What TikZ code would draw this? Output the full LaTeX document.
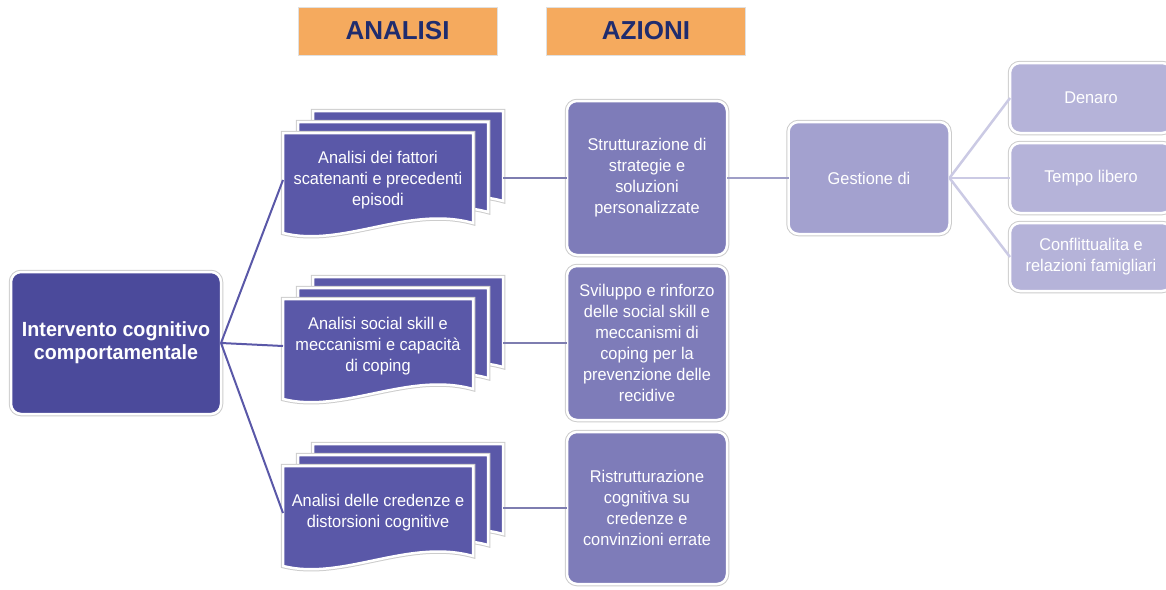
\documentclass[tikz,border=0pt]{standalone}
\usepackage{fontspec}
\usepackage{tikz}
\usetikzlibrary{calc}
\newfontfamily\boxfont[FakeStretch=0.96]{Liberation Sans}
\newfontfamily\headfont{Liberation Sans}

\definecolor{rootblue}{HTML}{4B4A9B}
\definecolor{docblue}{HTML}{5A58A8}
\definecolor{actblue}{HTML}{7E7CB9}
\definecolor{gestblue}{HTML}{A3A1CF}
\definecolor{leafblue}{HTML}{B5B3D9}
\definecolor{headorange}{HTML}{F5AA5E}
\definecolor{headnavy}{HTML}{1F2C6E}

% one sheet of a document stack, top left corner at (#1,#2)
\newcommand{\docpage}[2]{%
  \draw[docpage] (#1,#2) -- ({#1+190},#2) -- ({#1+190},{#2+90})
    .. controls ({#1+125},{#2+72}) and ({#1+60},{#2+115}) .. (#1,{#2+100}) -- cycle;}

\begin{document}
\begin{tikzpicture}[x=1pt, y=-1pt,
  box/.style={rounded corners=10pt, draw=white, line width=2.5pt,
    preaction={draw=black!20, line width=4.5pt}, text=white,
    align=center, outer sep=0pt, inner sep=2pt},
  docpage/.style={draw=white, line width=2.5pt, fill=docblue,
    preaction={draw=black!20, line width=4.5pt}},
  doctext/.style={minimum width=190, minimum height=94, text=white,
    align=center, inner sep=0pt, outer sep=0pt,
    font=\boxfont\fontsize{17}{21}\selectfont},
  header/.style={draw=black!12, line width=0.8pt, fill=headorange,
    minimum width=199, minimum height=48, text=headnavy,
    font=\headfont\bfseries\fontsize{26}{30}\selectfont},
  rootlink/.style={draw=docblue, line width=2pt},
  actlink/.style={draw=actblue!85!gray, line width=2pt},
  gestlink/.style={draw=gestblue!90!gray, line width=2pt},
  leaflink/.style={draw=leafblue!70!white, line width=2.5pt}]
  \clip (0,0) rectangle (1166,589);

  % Headers
  \node[header] (hana) at (397.5,31) {ANALISI};
  \node[header] (hazi) at (646,31) {AZIONI};

  % Root
  \node[box, fill=rootblue, minimum width=210, minimum height=142,
    font=\boxfont\bfseries\fontsize{20.5}{23}\selectfont] (root) at (116,343)
    {Intervento cognitivo\\comportamentale};

  % Document stacks (analisi)
  \docpage{313}{111} \docpage{298}{122} \docpage{283}{133}
  \node[doctext, anchor=north west] (an1) at (283,133)
    {Analisi dei fattori\\scatenanti e precedenti\\episodi};
  \docpage{313}{277} \docpage{298}{288} \docpage{283}{299}
  \node[doctext, anchor=north west] (an2) at (283,299)
    {Analisi social skill e\\meccanismi e capacità\\di coping};
  \docpage{313}{444} \docpage{298}{455} \docpage{283}{466}
  \node[doctext, anchor=north west] (an3) at (283,466)
    {Analisi delle credenze e\\distorsioni cognitive};

  % right edges of the stacks
  \coordinate (an1r) at (503,178);
  \coordinate (an2r) at (503,343);
  \coordinate (an3r) at (503,508);

  % Azioni
  \node[box, fill=actblue, minimum width=160, minimum height=154,
    font=\boxfont\fontsize{17}{21}\selectfont] (ac1) at (647,178)
    {Strutturazione di\\strategie e\\soluzioni\\personalizzate};
  \node[box, fill=actblue, minimum width=160, minimum height=154,
    font=\boxfont\fontsize{17}{21}\selectfont] (ac2) at (647,343)
    {Sviluppo e rinforzo\\delle social skill e\\meccanismi di\\coping per la\\prevenzione delle\\recidive};
  \node[box, fill=actblue, minimum width=160, minimum height=152,
    font=\boxfont\fontsize{17}{21}\selectfont] (ac3) at (647,508)
    {Ristrutturazione\\cognitiva su\\credenze e\\convinzioni errate};

  % Gestione
  \node[box, fill=gestblue, minimum width=161, minimum height=112,
    font=\boxfont\fontsize{17}{21}\selectfont] (ge) at (869,178) {Gestione di};
  \node[box, fill=leafblue, minimum width=162, minimum height=70,
    font=\boxfont\fontsize{17}{21}\selectfont] (dn) at (1091,98) {Denaro};
  \node[box, fill=leafblue, minimum width=162, minimum height=70,
    font=\boxfont\fontsize{17}{21}\selectfont] (tl) at (1091,178) {Tempo libero};
  \node[box, fill=leafblue, minimum width=162, minimum height=68,
    font=\boxfont\fontsize{17}{21}\selectfont] (cf) at (1091,257)
    {Conflittualita e\\relazioni famigliari};

  % Connectors
  \draw[rootlink] (root.east) -- (an1.west);
  \draw[rootlink] (root.east) -- (an2.west);
  \draw[rootlink] (root.east) -- (an3.west);
  \draw[actlink] (an1r) -- (ac1.west);
  \draw[actlink] (an2r) -- (ac2.west);
  \draw[actlink] (an3r) -- (ac3.west);
  \draw[gestlink] (ac1.east) -- (ge.west);
  \draw[leaflink] (ge.east) -- (dn.west);
  \draw[leaflink] (ge.east) -- (tl.west);
  \draw[leaflink] (ge.east) -- (cf.west);
\end{tikzpicture}
\end{document}
